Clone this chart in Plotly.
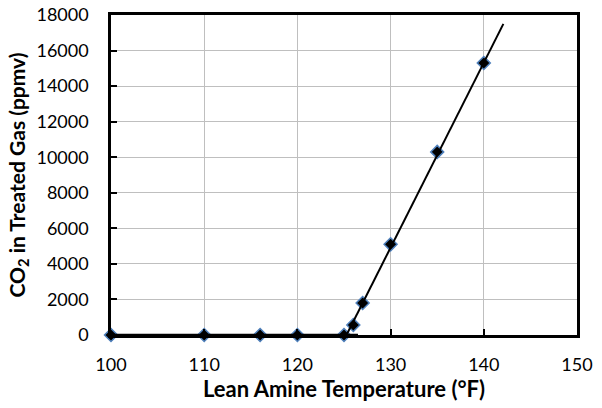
import plotly.graph_objects as go

# Data
temp_f = [100, 110, 116, 120, 125, 126, 127, 130, 135, 140]
co2_ppmv = [0, 0, 0, 0, 0, 560, 1800, 5100, 10300, 15300]

# Fitted line segments (as drawn in the reference)
flat_x = [100, 126.5]
flat_y = [0, 0]
fit_x = [125.27, 142.1]
fit_y = [0, 17500]

x_ticks = [100, 110, 120, 130, 140, 150]
y_ticks = [0, 2000, 4000, 6000, 8000, 10000, 12000, 14000, 16000, 18000]

FONT = "Lato"

fig = go.Figure()
fig.add_trace(go.Scatter(
    x=temp_f, y=co2_ppmv, mode="markers",
    marker=dict(symbol="diamond", size=10, color="black",
                line=dict(color="#4F81BD", width=1.5)),
    showlegend=False, cliponaxis=False))
fig.add_trace(go.Scatter(x=flat_x, y=flat_y, mode="lines",
                         line=dict(color="black", width=2.5), showlegend=False))
fig.add_trace(go.Scatter(x=fit_x, y=fit_y, mode="lines",
                         line=dict(color="black", width=2), showlegend=False))

fig.update_layout(
    width=602, height=408,
    margin=dict(l=111, r=25, t=15, b=73, autoexpand=False),
    paper_bgcolor="white", plot_bgcolor="white",
    font=dict(family=FONT, color="black", size=18),
)
fig.update_xaxes(
    range=[100, 150], tickvals=x_ticks, ticktext=[str(v) for v in x_ticks],
    showline=True, linecolor="black", linewidth=2.5, mirror=True,
    ticks="inside", ticklen=6, tickwidth=2, tickcolor="black",
    showgrid=True, gridcolor="#BFBFBF", gridwidth=1, zeroline=False,
    automargin=False, ticklabelstandoff=12,
    tickfont=dict(family=FONT, size=18),
    title=dict(text="<b>Lean Amine Temperature (°F)</b>",
               font=dict(family=FONT, size=22), standoff=5),
)
fig.update_yaxes(
    range=[0, 18000], tickvals=y_ticks, ticktext=[str(v) for v in y_ticks],
    showline=True, linecolor="black", linewidth=2.5, mirror=True,
    ticks="inside", ticklen=6, tickwidth=2, tickcolor="black",
    showgrid=True, gridcolor="#BFBFBF", gridwidth=1, zeroline=False,
    automargin=False, ticklabelstandoff=16,
    tickfont=dict(family=FONT, size=18),
    title=dict(text="<b>CO<sub>2</sub> in Treated Gas (ppmv)</b>",
               font=dict(family=FONT, size=21), standoff=6),
)

fig.write_html("out.html",
               config={"displayModeBar": False},
               post_script="document.body.style.margin='0';")
